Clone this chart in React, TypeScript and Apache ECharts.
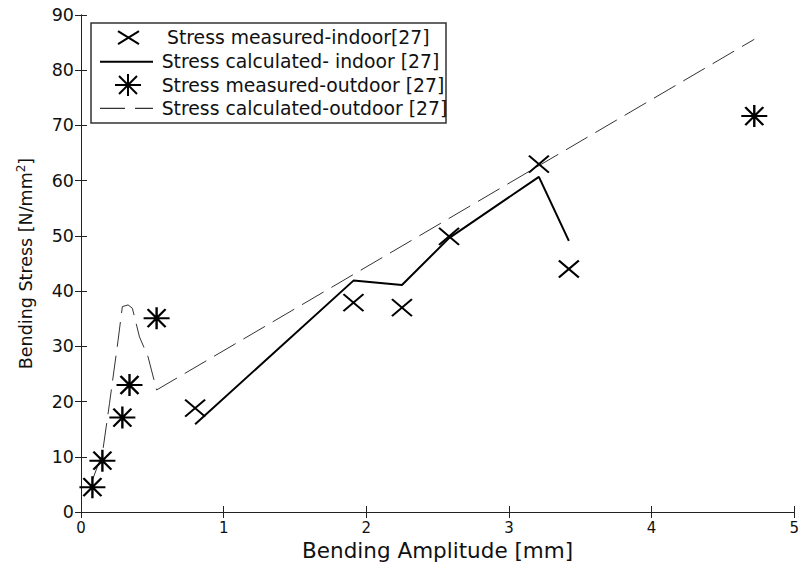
import React, { useEffect, useRef } from "react";
import * as echarts from "echarts";

// ---- data ----
const indoorMeasuredX = [0.8, 1.91, 2.25, 2.58, 3.21, 3.42];
const indoorMeasuredY = [18.8, 37.9, 37.0, 49.9, 63.0, 44.0];
const indoorCalcX = [0.8, 1.91, 2.25, 2.58, 3.21, 3.42];
const indoorCalcY = [15.9, 41.9, 41.1, 49.6, 60.7, 49.1];
const outdoorMeasuredX = [0.08, 0.15, 0.29, 0.34, 0.53, 4.72];
const outdoorMeasuredY = [4.5, 9.3, 17.1, 23.0, 35.1, 71.7];
const outdoorCalcX = [0.08, 0.15, 0.2, 0.26, 0.29, 0.33, 0.36, 0.41, 0.47, 0.53, 4.72];
const outdoorCalcY = [5.8, 10.6, 19.7, 31.1, 37.2, 37.5, 36.9, 31.7, 28.1, 22.1, 85.6];

const xRange = [0, 5];
const yRange = [0, 90];
const xStep = 1;
const yStep = 10;

const legendLabels = [
  "Stress measured-indoor[27]",
  "Stress calculated- indoor [27]",
  "Stress measured-outdoor [27]",
  "Stress calculated-outdoor [27]",
];
const xTitle = "Bending Amplitude [mm]";
const yTitleMain = "Bending Stress [N/mm";
const yTitleSup = "2";

const FONT = "DejaVu Sans";
const INK = "#111";

const pair = (xs: number[], ys: number[]) => xs.map((x, i) => [x, ys[i]]);

const X_PATH = "path://M0,0L20,17M20,0L0,17";
const STAR_PATH = "path://M0,11L26,11M13,0L13,22M4,2L22,20M22,2L4,20";

export default function App() {
  const ref = useRef<HTMLDivElement>(null);
  useEffect(() => {
    if (!ref.current) return;
    const chart = echarts.init(ref.current, null, { renderer: "svg" });
    const axisLine = { show: true, lineStyle: { color: "#222", width: 1 } };
    const tick = { show: true, inside: true, length: 6, lineStyle: { color: "#222", width: 1 } };
    const legX = 100, legX2 = 153, legMid = 128;
    const rows = [37.7, 61.7, 85, 108.3];
    const textStyle = (x: number, y: number, t: string) => ({
      type: "text",
      x,
      y,
      z: 101,
      style: { text: t, fontFamily: FONT, fontSize: 18.8, fill: INK, verticalAlign: "middle", align: "left" },
    });
    const ln = (x1: number, y1: number, x2: number, y2: number, w: number, dash?: number[]) => ({
      type: "line",
      z: 101,
      shape: { x1, y1, x2, y2 },
      style: { stroke: "#000", lineWidth: w, lineDash: dash },
    });
    chart.setOption({
      animation: false,
      backgroundColor: "#fff",
      grid: { left: 81, right: 3, top: 15, bottom: 55, containLabel: false },
      xAxis: [
        {
          type: "value",
          min: xRange[0],
          max: xRange[1],
          interval: xStep,
          axisLine,
          axisTick: tick,
          splitLine: { show: false },
          axisLabel: { fontFamily: FONT, fontSize: 15, color: INK, margin: 8 },
          name: xTitle,
          nameLocation: "middle",
          nameGap: 22,
          nameTextStyle: { fontFamily: FONT, fontSize: 21.5, color: INK },
        },
        {
          type: "value",
          position: "top",
          min: xRange[0],
          max: xRange[1],
          interval: xStep,
          axisLine,
          axisTick: tick,
          splitLine: { show: false },
          axisLabel: { show: false },
        },
      ],
      yAxis: [
        {
          type: "value",
          min: yRange[0],
          max: yRange[1],
          interval: yStep,
          axisLine,
          axisTick: tick,
          splitLine: { show: false },
          axisLabel: { fontFamily: FONT, fontSize: 17.5, color: INK, margin: 7 },
          name: `{a|${yTitleMain}}{s|${yTitleSup}}{a|]}`,
          nameLocation: "middle",
          nameGap: 44,
          nameRotate: 90,
          nameTextStyle: {
            fontFamily: FONT,
            color: INK,
            rich: {
              a: { fontFamily: FONT, fontSize: 17.5, color: INK, lineHeight: 22 },
              s: { fontFamily: FONT, fontSize: 12, color: INK, verticalAlign: "top", lineHeight: 12 },
            },
          },
        },
        {
          type: "value",
          position: "right",
          min: yRange[0],
          max: yRange[1],
          interval: yStep,
          axisLine,
          axisTick: tick,
          splitLine: { show: false },
          axisLabel: { show: false },
        },
      ],
      series: [
        {
          name: legendLabels[1],
          type: "line",
          data: pair(indoorCalcX, indoorCalcY),
          symbol: "none",
          lineStyle: { color: "#000", width: 2 },
          z: 2,
        },
        {
          name: legendLabels[3],
          type: "line",
          data: pair(outdoorCalcX, outdoorCalcY),
          symbol: "none",
          lineStyle: { color: "#333", width: 1, type: [25, 9] },
          z: 2,
        },
        {
          name: legendLabels[0],
          type: "scatter",
          data: pair(indoorMeasuredX, indoorMeasuredY),
          symbol: X_PATH,
          symbolSize: [20, 17],
          itemStyle: { color: "none", borderColor: "#000", borderWidth: 2, opacity: 1 },
          z: 3,
        },
        {
          name: legendLabels[2],
          type: "scatter",
          data: pair(outdoorMeasuredX, outdoorMeasuredY),
          symbol: STAR_PATH,
          symbolSize: [26, 22],
          itemStyle: { color: "none", borderColor: "#000", borderWidth: 2.2, opacity: 1 },
          z: 3,
        },
      ],
      graphic: [
        {
          type: "rect",
          z: 100,
          shape: { x: 91, y: 23, width: 355, height: 100 },
          style: { fill: "#fff", stroke: "#333", lineWidth: 1.5 },
        },
        ln(118, rows[0] - 6.5, 139, rows[0] + 6.5, 2),
        ln(139, rows[0] - 6.5, 118, rows[0] + 6.5, 2),
        textStyle(167, rows[0], legendLabels[0]),
        ln(legX, rows[1], legX2, rows[1], 2),
        textStyle(161.7, rows[1], legendLabels[1]),
        ln(legMid - 13, rows[2], legMid + 13, rows[2], 2),
        ln(legMid, rows[2] - 11, legMid, rows[2] + 11, 2),
        ln(legMid - 9, rows[2] - 9, legMid + 9, rows[2] + 9, 2),
        ln(legMid + 9, rows[2] - 9, legMid - 9, rows[2] + 9, 2),
        textStyle(161.7, rows[2], legendLabels[2]),
        ln(legX, rows[3], legX2, rows[3], 1, [25, 10]),
        textStyle(161.7, rows[3], legendLabels[3]),
      ],
    });
    return () => chart.dispose();
  }, []);
  return (
    <div
      ref={ref}
      style={{ position: "fixed", left: 0, top: 0, width: 802, height: 567, background: "#fff" }}
    />
  );
}
